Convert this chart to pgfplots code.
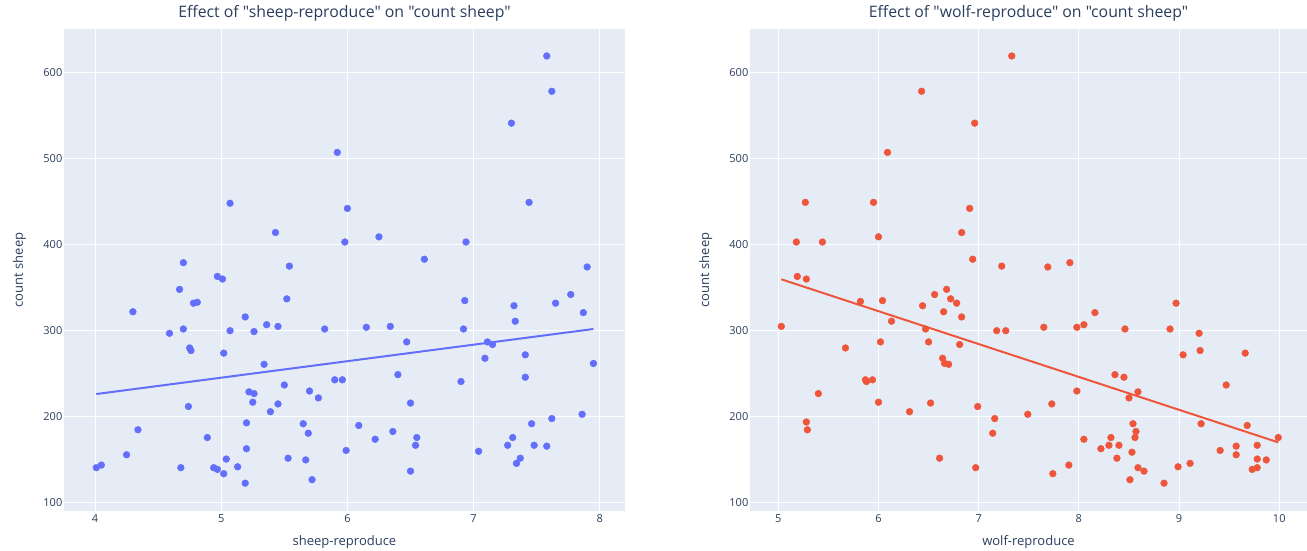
\documentclass[border=0pt]{standalone}
\usepackage{fontspec}
\setmainfont{Open Sans}[Ligatures=TeXOff]
\usepackage{pgfplots}
\pgfplotsset{compat=1.18}

\definecolor{plotbg}{HTML}{E5ECF6}
\definecolor{inkc}{HTML}{2A3F5F}
\definecolor{sheepc}{HTML}{636EFA}
\definecolor{wolfc}{HTML}{EF553B}

\pgfplotsset{
  effect/.style={
    scale only axis,
    height=482pt,
    ymin=90.7, ymax=650.3,
    ytick={100,200,300,400,500,600},
    axis background/.style={fill=plotbg},
    axis line style={draw=none},
    tick style={draw=none},
    grid=major,
    major grid style={white, line width=1pt},
    /pgf/number format/assume math mode=true,
    tick label style={font=\fontsize{11}{13}\selectfont, text=inkc},
    xticklabel style={anchor=base, yshift=-11.7pt},
    yticklabel style={anchor=east, inner xsep=1.5pt},
    title style={font=\fontsize{15.8}{18}\selectfont, text=inkc,
      at={(axis description cs:0.5,1.0104)}, anchor=base},
    xlabel style={font=\fontsize{13}{16}\selectfont, text=inkc,
      at={(axis description cs:0.5,-0.0726)}, anchor=base},
    ylabel style={font=\fontsize{13}{16}\selectfont, text=inkc, anchor=base},
    ylabel={count sheep},
    clip=false,
  },
  dots/.style={only marks, mark=*, mark size=3.4pt, color=#1,
    mark options={solid, draw=none, fill=#1}},
  fit/.style={no marks, line width=2pt, color=#1},
}

\begin{document}
\begin{tikzpicture}
\path[use as bounding box, fill=white] (0,0) rectangle (1307pt,551pt);

% sheep-reproduce vs count sheep
\begin{axis}[effect,
  at={(64pt,40pt)}, anchor=south west,
  width=561pt,
  xmin=3.754, xmax=8.2,
  xtick={4,5,6,7,8},
  title={Effect of "sheep-reproduce" on "count sheep"},
  xlabel={sheep-reproduce},
  ylabel style={at={(axis description cs:-0.0731,0.5)}},
]
\addplot[dots=sheepc] coordinates {
(5.92,507) (5.07,448) (6.00,442) (5.43,414) (5.98,403) (4.70,379) (5.54,375)
(4.97,363) (5.01,360) (7.58,619) (7.62,578) (7.30,541) (7.44,449) (6.25,409)
(6.94,403) (6.61,383) (7.90,374) (4.67,348) (4.78,332) (4.81,333) (5.52,337)
(4.30,322) (5.19,316) (5.36,307) (5.45,305) (5.82,302) (4.70,302) (4.59,297)
(5.07,300) (5.26,299) (4.75,280) (4.76,277) (5.02,274) (5.34,261) (5.90,243)
(5.96,243) (5.50,237) (5.22,229) (5.26,227) (5.70,230) (5.77,222) (5.25,217)
(5.45,215) (4.74,212) (5.39,206) (5.20,193) (5.65,192) (5.69,181) (4.34,185)
(4.89,176) (5.20,163) (5.99,161) (4.25,156) (5.04,151) (5.53,152) (5.67,150)
(4.05,144) (4.01,141) (4.68,141) (5.13,142) (4.94,141) (4.97,139) (5.02,134)
(5.19,123) (5.72,127) (6.93,335) (7.77,342) (7.32,329) (7.65,332) (7.87,321)
(7.33,311) (6.15,304) (6.34,305) (6.92,302) (6.47,287) (7.11,287) (7.15,284)
(7.09,268) (7.41,272) (7.95,262) (6.40,249) (6.90,241) (7.41,246) (6.50,216)
(7.86,203) (7.62,198) (7.46,192) (6.09,190) (6.36,183) (6.22,174) (6.55,176)
(6.54,167) (7.31,176) (7.27,167) (7.48,167) (7.58,166) (7.04,160) (7.37,152)
(7.34,146) (6.50,137)
};
% least-squares trend line
\addplot[fit=sheepc] coordinates {(4.01,226.5) (7.95,302.0)};
\end{axis}

% wolf-reproduce vs count sheep
\begin{axis}[effect,
  at={(750pt,40pt)}, anchor=south west,
  width=557pt,
  xmin=4.7176, xmax=10.277,
  xtick={5,6,7,8,9,10},
  title={Effect of "wolf-reproduce" on "count sheep"},
  xlabel={wolf-reproduce},
  ylabel style={at={(axis description cs:-0.0736,0.5)}},
]
\addplot[dots=wolfc] coordinates {
(7.33,619) (6.43,578) (6.96,541) (6.09,507) (5.27,449) (5.95,449) (6.91,442)
(6.83,414) (5.18,403) (5.44,403) (6.00,409) (6.94,383) (7.23,375) (5.19,363)
(5.28,360) (7.69,374) (7.91,379) (5.82,334) (6.04,335) (6.44,329) (6.56,342)
(6.68,348) (6.72,337) (6.78,332) (6.65,322) (6.83,316) (5.03,305) (6.13,311)
(6.47,302) (7.18,300) (7.27,300) (6.02,287) (6.50,287) (6.81,284) (5.67,280)
(6.64,268) (6.66,262) (6.70,261) (5.87,243) (5.88,241) (5.94,243) (5.40,227)
(6.00,217) (6.52,216) (6.99,212) (6.31,206) (7.49,203) (7.16,198) (5.28,194)
(5.29,185) (7.14,181) (6.61,152) (6.97,141) (8.97,332) (8.16,321) (7.65,304)
(7.98,304) (8.05,307) (8.46,302) (8.91,302) (9.20,297) (9.04,272) (9.21,277)
(9.66,274) (8.36,249) (8.45,246) (9.47,237) (7.98,230) (8.59,229) (8.50,222)
(7.73,215) (8.54,192) (9.22,192) (9.68,190) (8.57,183) (8.32,176) (8.56,176)
(9.99,176) (8.05,174) (8.30,167) (8.40,167) (9.57,166) (9.78,167) (8.22,163)
(9.41,161) (8.53,159) (9.57,156) (8.38,152) (9.78,151) (9.87,150) (7.90,144)
(9.11,146) (8.99,142) (8.59,141) (9.78,141) (9.73,139) (8.65,137) (7.74,134)
(8.51,127) (8.85,123)
};
% least-squares trend line
\addplot[fit=wolfc] coordinates {(5.03,359.7) (9.99,170.4)};
\end{axis}
\end{tikzpicture}
\end{document}
